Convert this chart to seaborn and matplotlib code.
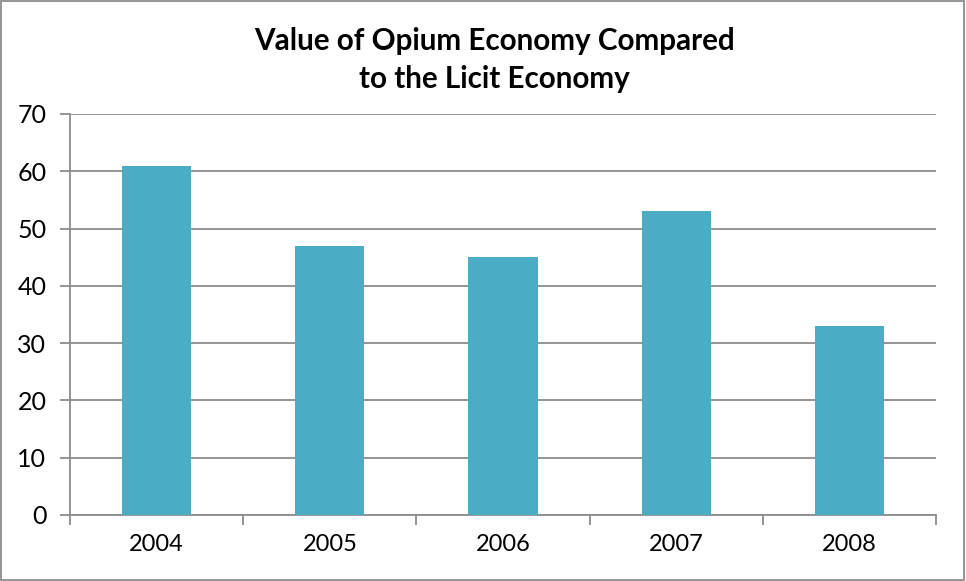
import matplotlib
matplotlib.use("Agg")
import matplotlib.pyplot as plt
from matplotlib.patches import Rectangle
import seaborn as sns
import pandas as pd

years = ["2004", "2005", "2006", "2007", "2008"]
values = [61, 47, 45, 53, 33]
y_ticks = [0, 10, 20, 30, 40, 50, 60, 70]
title = "Value of Opium Economy Compared\nto the Licit Economy"

sns.set_theme(style="white")
plt.rcParams["font.family"] = ["Lato", "DejaVu Sans"]
plt.rcParams["text.color"] = "black"
plt.rcParams["xtick.color"] = "black"
plt.rcParams["ytick.color"] = "black"

df = pd.DataFrame({"year": years, "value": values})

fig = plt.figure(figsize=(9.66, 5.81), dpi=100)
ax = fig.add_axes([0.0725, 0.1136, 0.8965, 0.6902])

grid_color = "#8c8c8c"
sns.barplot(data=df, x="year", y="value", color="#4BACC6", saturation=1,
            width=0.4, linewidth=0, ax=ax, zorder=3)

ax.set_ylim(0, 70)
ax.set_xlim(-0.5, len(years) - 0.5)
ax.set_yticks(y_ticks)
ax.yaxis.grid(True, color=grid_color, linewidth=1.3, zorder=0)
ax.set_axisbelow(True)
ax.set_xlabel("")
ax.set_ylabel("")

for side in ["top", "right"]:
    ax.spines[side].set_visible(False)
for side in ["left", "bottom"]:
    ax.spines[side].set_color(grid_color)
    ax.spines[side].set_linewidth(1.3)

ax.tick_params(axis="y", which="major", length=7, width=1.3, color=grid_color,
               labelcolor="black", labelsize=18, pad=10, left=True)
ax.tick_params(axis="x", which="major", length=0, labelsize=17,
               labelcolor="black", pad=14)
ax.set_xticks([i - 0.5 for i in range(len(years) + 1)], minor=True)
ax.tick_params(axis="x", which="minor", length=7, width=1.3, color=grid_color,
               bottom=True)

fig.text(0.512, 0.953, title, ha="center", va="top", fontsize=21.3,
         fontweight="bold", color="black", linespacing=1.4)

fig.patches.append(Rectangle((0.001, 0.002), 0.997, 0.996, transform=fig.transFigure,
                             fill=False, edgecolor="#8c8c8c", linewidth=1.3))

fig.savefig("out.png", dpi=100)
